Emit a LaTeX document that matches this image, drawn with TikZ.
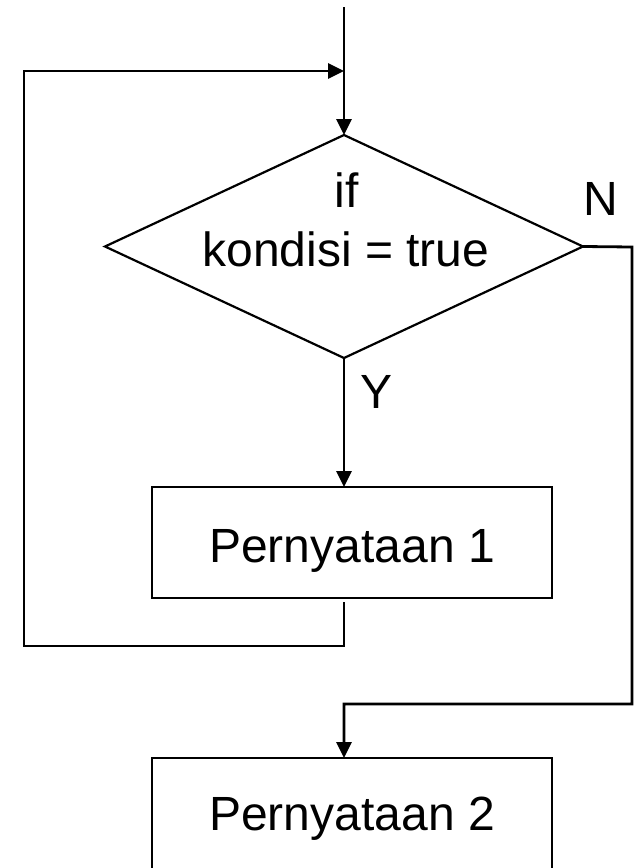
\documentclass[tikz,border=0pt]{standalone}
\usepackage{fontspec}
\setmainfont{Liberation Sans}
\usetikzlibrary{arrows.meta,shapes.geometric}
\begin{document}
\begin{tikzpicture}[x=1bp,y=-1bp,
  every node/.style={font=\fontsize{48bp}{58bp}\selectfont},
  conn/.style={line width=2.8bp},
  arr/.style={conn,-{Triangle[length=16bp,width=15bp]}},
  decision/.style={draw,diamond,line width=2.2bp,inner sep=0pt,outer sep=0pt,minimum width=478bp,minimum height=223bp},
  stmtbox/.style={draw,rectangle,line width=2.8bp,inner sep=0pt,outer sep=0pt,minimum width=400bp,text depth=0bp},
  lbl/.style={anchor=base,inner sep=0pt}]
\useasboundingbox (0,0) rectangle (639,868);
\clip (0,0) rectangle (639,868);
% nodes
\node[decision] (d) at (344,246.5) {};
\node[lbl] (tif) at (346.5,207) {if};
\node[lbl] (tcond) at (346,266) {kondisi = true};
\node[stmtbox,minimum height=111bp,text height=39bp] (b1) at (352,542.5) {Pernyataan 1};
\node[stmtbox,minimum height=130bp,text height=14bp] (b2) at (352,823) {Pernyataan 2};
\node[lbl] (ly) at (377,408) {Y};
\node[lbl] (ln) at (601,215) {N};
% coordinates
\coordinate (start) at (344,7);
\coordinate (join) at (344,71);
\coordinate (lbr) at (344,646);
\coordinate (lbl) at (24,646);
\coordinate (ltl) at (24,71);
\coordinate (rt) at (632,247);
\coordinate (rb) at (632,704);
\coordinate (rl) at (344,704);
% connectors
\draw[arr] (start) -- (d.north);
\draw[arr] (d.south) -- (d.south |- b1.north);
\draw[arr,shorten <=4bp] (lbr |- b1.south) -- (lbr) -- (lbl) -- (ltl) -- (join);
\draw[arr] (d.east) -- (rt) -- (rb) -- (rl) -- (rl |- b2.north);
\end{tikzpicture}
\end{document}
